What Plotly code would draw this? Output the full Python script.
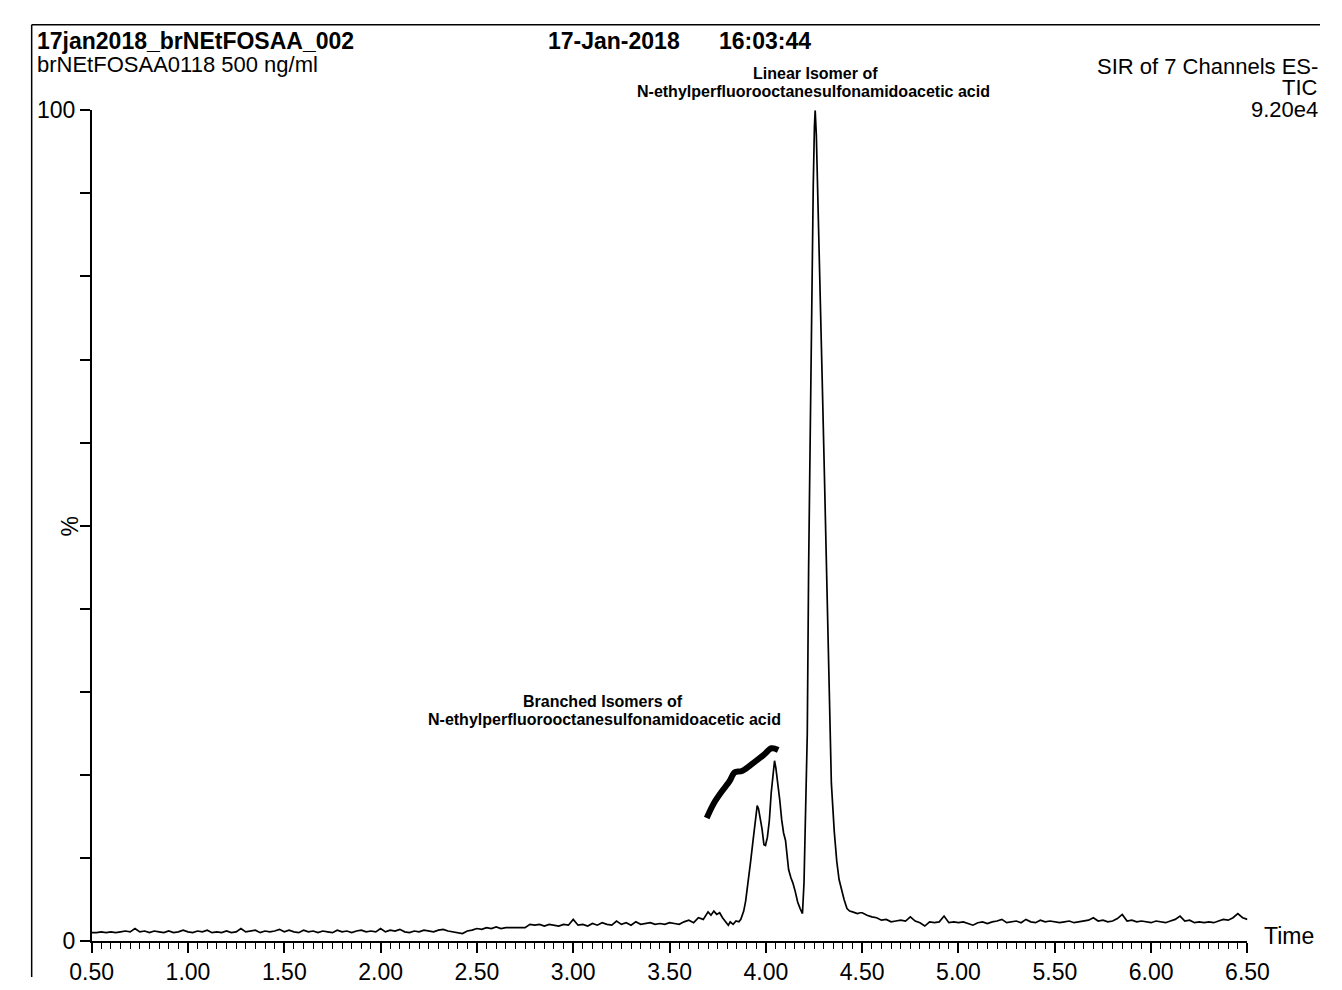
import numpy as np
import plotly.graph_objects as go

W, H = 1342, 990

# ---------------- data ----------------
# baseline before the peak cluster, sampled every 0.025 min from 0.500 min
left_start, left_step = 0.500, 0.025
left_pct = [
    1.0, 1.0, 1.1, 1.0, 1.1, 1.0, 1.1, 1.2,
    1.1, 1.5, 1.1, 1.2, 1.0, 1.2, 1.1, 1.0,
    1.2, 1.0, 1.1, 1.3, 1.1, 1.0, 1.2, 1.1,
    1.3, 1.0, 1.1, 1.0, 1.2, 1.0, 1.1, 1.5,
    1.1, 1.2, 1.3, 1.0, 1.2, 1.1, 1.2, 1.4,
    1.1, 1.3, 1.1, 1.0, 1.3, 1.1, 1.2, 1.0,
    1.2, 1.1, 1.0, 1.3, 1.1, 1.2, 1.0, 1.2,
    1.3, 1.1, 1.2, 1.1, 1.5, 1.1, 1.3, 1.2,
    1.4, 1.1, 1.0, 1.2, 1.1, 1.3, 1.2, 1.1,
    1.3, 1.4, 1.2, 1.1, 1.0, 0.9, 1.2, 1.3,
    1.5, 1.4, 1.6, 1.5, 1.7, 1.5, 1.6, 1.6,
    1.6, 1.6, 1.6, 2.0, 1.9, 2.0, 1.8, 2.0,
    1.9, 1.8, 2.0, 1.9, 2.6, 1.9, 2.0, 1.8,
    2.1, 1.9, 2.2, 2.0, 1.9, 2.4, 2.0, 2.2,
    1.9, 2.3, 2.0, 2.1, 2.2, 2.0, 2.1, 2.0,
    2.2, 2.1, 2.0, 2.3, 2.5, 2.2, 2.8, 2.6,
]

# peak cluster (branched isomers + linear isomer)
peak_time = [3.700, 3.715, 3.730, 3.745, 3.760, 3.775, 3.790, 3.805, 3.815, 3.830,
             3.845, 3.860, 3.870, 3.885, 3.895, 3.908, 3.920, 3.932, 3.940, 3.948,
             3.955, 3.962, 3.970, 3.980, 3.990, 3.998, 4.008, 4.018, 4.028, 4.037,
             4.045, 4.052, 4.062, 4.072, 4.082, 4.092, 4.102, 4.110, 4.118, 4.130,
             4.140, 4.152, 4.165, 4.178, 4.190, 4.198, 4.205, 4.215, 4.222, 4.230,
             4.238, 4.246, 4.252, 4.256, 4.262, 4.270, 4.280, 4.292, 4.305, 4.318,
             4.330, 4.340, 4.355, 4.368, 4.380, 4.393, 4.406, 4.421, 4.435, 4.450,
             4.462, 4.475, 4.490]
peak_pct = [3.5, 3.1, 3.6, 3.2, 3.4, 2.8, 2.3, 1.9, 2.3, 2.0,
            2.4, 2.3, 2.6, 3.6, 4.8, 7.0, 9.4, 11.8, 13.2, 15.0,
            16.3, 15.9, 15.0, 13.5, 11.6, 11.5, 12.5, 14.5, 17.9, 20.5,
            21.7, 20.8, 19.2, 17.0, 14.6, 13.0, 12.1, 10.0, 8.6, 7.6,
            7.0, 6.0, 4.7, 3.9, 3.3, 7.0, 13.2, 25.0, 45.0, 62.0,
            78.0, 91.0, 98.0, 100.0, 97.0, 90.0, 80.0, 68.0, 55.0, 41.0,
            28.0, 19.0, 13.2, 9.6, 7.4, 6.0, 5.0, 3.9, 3.6, 3.5,
            3.4, 3.3, 3.4]

# baseline after the peak cluster, sampled every 0.025 min from 4.500 min
right_start, right_step = 4.500, 0.025
right_pct = [
    3.4, 3.1, 2.9, 2.8, 2.5, 2.6, 2.3, 2.4,
    2.5, 2.4, 2.9, 2.4, 2.2, 1.8, 2.3, 2.2,
    2.3, 3.0, 2.2, 2.3, 2.2, 2.3, 2.1, 1.9,
    2.2, 2.3, 2.1, 2.3, 2.4, 2.6, 2.2, 2.3,
    2.4, 2.2, 2.6, 2.3, 2.2, 2.5, 2.3, 2.4,
    2.3, 2.2, 2.3, 2.4, 2.2, 2.3, 2.4, 2.5,
    2.8, 2.4, 2.5, 2.3, 2.4, 2.7, 3.2, 2.4,
    2.5, 2.3, 2.4, 2.3, 2.2, 2.4, 2.3, 2.2,
    2.4, 2.6, 3.0, 2.4, 2.5, 2.2, 2.3, 2.2,
    2.3, 2.2, 2.4, 2.6, 2.5, 2.8, 3.3, 2.8,
    2.6,
]

# hand-drawn bracket over the branched isomers
bracket_time = [3.693, 3.728, 3.768, 3.813, 3.828, 3.838, 3.879, 3.939, 3.989, 4.029, 4.064]
bracket_pct = [14.8, 16.5, 17.9, 19.3, 20.0, 20.3, 20.5, 21.5, 22.4, 23.2, 23.0]

x_ticks = [0.5, 1.0, 1.5, 2.0, 2.5, 3.0, 3.5, 4.0, 4.5, 5.0, 5.5, 6.0, 6.5]
x_ticklabels = ["0.50", "1.00", "1.50", "2.00", "2.50", "3.00", "3.50",
                "4.00", "4.50", "5.00", "5.50", "6.00", "6.50"]
y_ticks = [0, 10, 20, 30, 40, 50, 60, 70, 80, 90, 100]
y_ticklabels = ["0", "", "", "", "", "", "", "", "", "", "100"]

# ---------------- build trace ----------------
left_time = np.round(left_start + left_step * np.arange(len(left_pct)), 3)
right_time = np.round(right_start + right_step * np.arange(len(right_pct)), 3)
time = np.concatenate([left_time, peak_time, right_time])
pct = np.concatenate([left_pct, peak_pct, right_pct])

FONT = "Liberation Sans, Arial, sans-serif"

fig = go.Figure()
fig.add_trace(go.Scatter(x=time, y=pct, mode="lines",
                         line=dict(color="black", width=1.7), hoverinfo="skip"))
fig.add_trace(go.Scatter(x=bracket_time, y=bracket_pct, mode="lines",
                         line=dict(color="black", width=6, shape="spline"),
                         hoverinfo="skip"))


def px(x):
    return x / W


def py(y):
    return 1 - y / H


x0, x1 = 72, 1267
y0, y1 = 953, 100

fig.update_layout(
    width=W, height=H, margin=dict(l=0, r=0, t=0, b=0),
    paper_bgcolor="white", plot_bgcolor="white", showlegend=False,
    font=dict(family=FONT, size=23, color="black"),
    xaxis=dict(domain=[px(x0), px(x1)], range=[0.5, 6.5], showgrid=False, zeroline=False,
               showline=True, linecolor="black", linewidth=1.5,
               tickvals=x_ticks, ticktext=x_ticklabels, ticks="outside", ticklen=10,
               tickwidth=1.5, tickcolor="black", tickfont=dict(size=23, family=FONT),
               minor=dict(dtick=0.05, tick0=0.5, ticks="outside", ticklen=6,
                          tickwidth=1.2, tickcolor="black", showgrid=False)),
    yaxis=dict(domain=[py(y0), py(y1)], range=[0, 100], showgrid=False, zeroline=False,
               showline=True, linecolor="black", linewidth=1.5,
               tickvals=y_ticks, ticktext=y_ticklabels, ticks="outside", ticklen=10,
               tickwidth=1.5, tickcolor="black", tickfont=dict(size=23, family=FONT)),
)

ann = []


def text(s, x, y, size=23, bold=False, xanchor="left", angle=0):
    ann.append(dict(text=f"<b>{s}</b>" if bold else s, x=px(x), y=py(y), xref="paper",
                    yref="paper", xanchor=xanchor, yanchor="middle", showarrow=False,
                    textangle=angle, font=dict(family=FONT, size=size, color="black")))


text("17jan2018_brNEtFOSAA_002", 13, 29, bold=True)
text("brNEtFOSAA0118 500 ng/ml", 13, 53, size=22)
text("17-Jan-2018", 542, 29, bold=True)
text("16:03:44", 719, 29, bold=True)
text("SIR of 7 Channels ES-", 1342, 55, size=22, xanchor="right")
text("TIC", 1342, 77, size=22, xanchor="right")
text("9.20e4", 1342, 99, size=22, xanchor="right")
text("Linear Isomer of", 820, 62, size=16, bold=True, xanchor="center")
text("N-ethylperfluorooctanesulfonamidoacetic acid", 818, 81, size=16, bold=True,
     xanchor="center")
text("Branched Isomers of", 601, 707, size=16, bold=True, xanchor="center")
text("N-ethylperfluorooctanesulfonamidoacetic acid", 602, 726, size=16, bold=True,
     xanchor="center")
text("%", 50, 527, angle=-90, xanchor="center")
text("Time", 1282, 948)
fig.update_layout(annotations=ann)

# scanned page frame
fig.add_shape(type="line", xref="paper", yref="paper", x0=px(10), x1=1, y0=py(12), y1=py(12),
              line=dict(color="black", width=1.5))
fig.add_shape(type="line", xref="paper", yref="paper", x0=px(10), x1=px(10), y0=py(12), y1=0,
              line=dict(color="black", width=1.5))

fig.write_html("out.html",
               post_script="document.body.style.margin='0px';"
                           "document.documentElement.style.overflow='hidden';"
                           "document.body.style.overflow='hidden';")
